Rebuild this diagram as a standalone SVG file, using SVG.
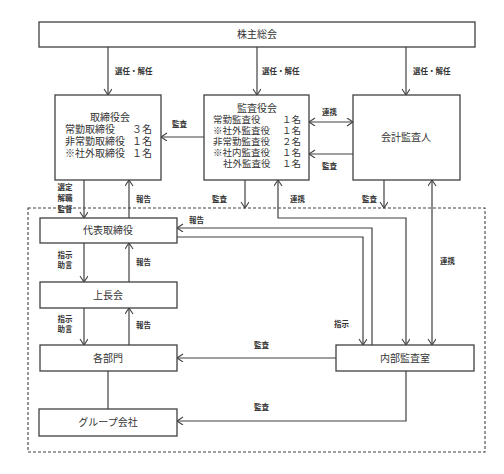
<svg xmlns="http://www.w3.org/2000/svg" width="504" height="474" viewBox="0 0 504 474">
<defs>
<marker id="ah" markerWidth="10" markerHeight="10" refX="7" refY="4" orient="auto-start-reverse" markerUnits="userSpaceOnUse">
<path d="M1,0 L7,4 L1,8" fill="none" stroke="#404040" stroke-width="1.1"/>
</marker>
<style>
.box{fill:#fff;stroke:#404040;stroke-width:1.3}
.t{font-family:"Noto Sans CJK JP","Noto Sans CJK SC",sans-serif;font-size:10px;fill:#333}
.s{font-size:9.5px}
.c{text-anchor:middle}
.e{text-anchor:end}
.l{font-family:"Noto Sans CJK JP","Noto Sans CJK SC",sans-serif;font-size:7.5px;fill:#333;font-weight:bold}
.ln{fill:none;stroke:#404040;stroke-width:1.2}
.a{marker-end:url(#ah)}
.b{marker-start:url(#ah);marker-end:url(#ah)}
.dash{fill:none;stroke:#404040;stroke-width:1.1;stroke-dasharray:3,2}
</style>
</defs>
<rect width="504" height="474" fill="#fff"/>
<rect class="dash" x="28" y="208" width="457" height="244"/>
<g id="connectors">
<path class="ln a" d="M108,47 V95"/>
<path class="ln a" d="M257,47 V95"/>
<path class="ln a" d="M406,47 V95"/>
<path class="ln a" d="M204,137 H161"/>
<path class="ln b" d="M309,122 H353"/>
<path class="ln a" d="M353,154 H309"/>
<path class="ln a" d="M84,180 V218"/>
<path class="ln a" d="M129,218 V180"/>
<path class="ln a" d="M245,180 V208"/>
<path class="ln b" d="M406,345 V218 H278 V180"/>
<path class="ln a" d="M384,180 V208"/>
<path class="ln b" d="M432,345 V180"/>
<path class="ln a" d="M372,345 V228 H177"/>
<path class="ln a" d="M177,237 H363 V345"/>
<path class="ln a" d="M84,243 V282"/>
<path class="ln a" d="M129,282 V243"/>
<path class="ln a" d="M84,308 V345"/>
<path class="ln a" d="M129,345 V308"/>
<path class="ln" d="M108,371 V409"/>
<path class="ln a" d="M336,358 H177"/>
<path class="ln a" d="M406,371 V421 H177"/>
<text class="l" x="115" y="74">選任・解任</text>
<text class="l" x="262" y="74">選任・解任</text>
<text class="l" x="413" y="74">選任・解任</text>
<text class="l" x="172" y="127">監査</text>
<text class="l" x="322" y="115">連携</text>
<text class="l" x="322" y="169">監査</text>
<text class="l c" x="65" y="190">選定</text>
<text class="l c" x="65" y="201">解職</text>
<text class="l c" x="65" y="212">監督</text>
<text class="l" x="136" y="202">報告</text>
<text class="l" x="212" y="202">監査</text>
<text class="l" x="290" y="202">連携</text>
<text class="l" x="362" y="202">監査</text>
<text class="l" x="440" y="264">連携</text>
<text class="l" x="189" y="223">報告</text>
<text class="l" x="334" y="327">指示</text>
<text class="l c" x="65" y="258">指示</text>
<text class="l c" x="65" y="268">助言</text>
<text class="l" x="136" y="265">報告</text>
<text class="l c" x="65" y="322">指示</text>
<text class="l c" x="65" y="332">助言</text>
<text class="l" x="136" y="328">報告</text>
<text class="l" x="254" y="348">監査</text>
<text class="l" x="254" y="410">監査</text>
</g>
<g id="shareholders">
<rect class="box" x="39" y="22" width="436" height="25"/>
<text class="t c" x="257" y="38">株主総会</text>
</g>
<g id="board">
<rect class="box" x="55" y="95" width="106" height="85"/>
<text class="t c" x="110" y="121">取締役会</text>
<text class="t" x="65" y="133">常勤取締役</text><text class="t e" x="152" y="133">３名</text>
<text class="t" x="65" y="145">非常勤取締役</text><text class="t e" x="152" y="145">１名</text>
<text class="t" x="65" y="157">※社外取締役</text><text class="t e" x="152" y="157">１名</text>
</g>
<g id="auditors">
<rect class="box" x="204" y="95" width="105" height="85"/>
<text class="t c" x="257" y="112">監査役会</text>
<text class="t s" x="213" y="123">常勤監査役</text><text class="t s e" x="301" y="123">１名</text>
<text class="t s" x="213" y="134">※社外監査役</text><text class="t s e" x="301" y="134">１名</text>
<text class="t s" x="213" y="145">非常勤監査役</text><text class="t s e" x="301" y="145">２名</text>
<text class="t s" x="213" y="156">※社内監査役</text><text class="t s e" x="301" y="156">１名</text>
<text class="t s" x="223" y="167">社外監査役</text><text class="t s e" x="301" y="167">１名</text>
</g>
<g id="accounting-auditor">
<rect class="box" x="353" y="95" width="107" height="85"/>
<text class="t c" x="406" y="141">会計監査人</text>
</g>
<g id="ceo">
<rect class="box" x="40" y="218" width="137" height="25"/>
<text class="t c" x="108" y="234">代表取締役</text>
</g>
<g id="managers">
<rect class="box" x="40" y="282" width="137" height="26"/>
<text class="t c" x="108" y="299">上長会</text>
</g>
<g id="departments">
<rect class="box" x="40" y="345" width="137" height="26"/>
<text class="t c" x="108" y="362">各部門</text>
</g>
<g id="group">
<rect class="box" x="39" y="409" width="138" height="27"/>
<text class="t c" x="108" y="426">グループ会社</text>
</g>
<g id="internal-audit">
<rect class="box" x="336" y="345" width="138" height="26"/>
<text class="t c" x="405" y="362">内部監査室</text>
</g>
</svg>
